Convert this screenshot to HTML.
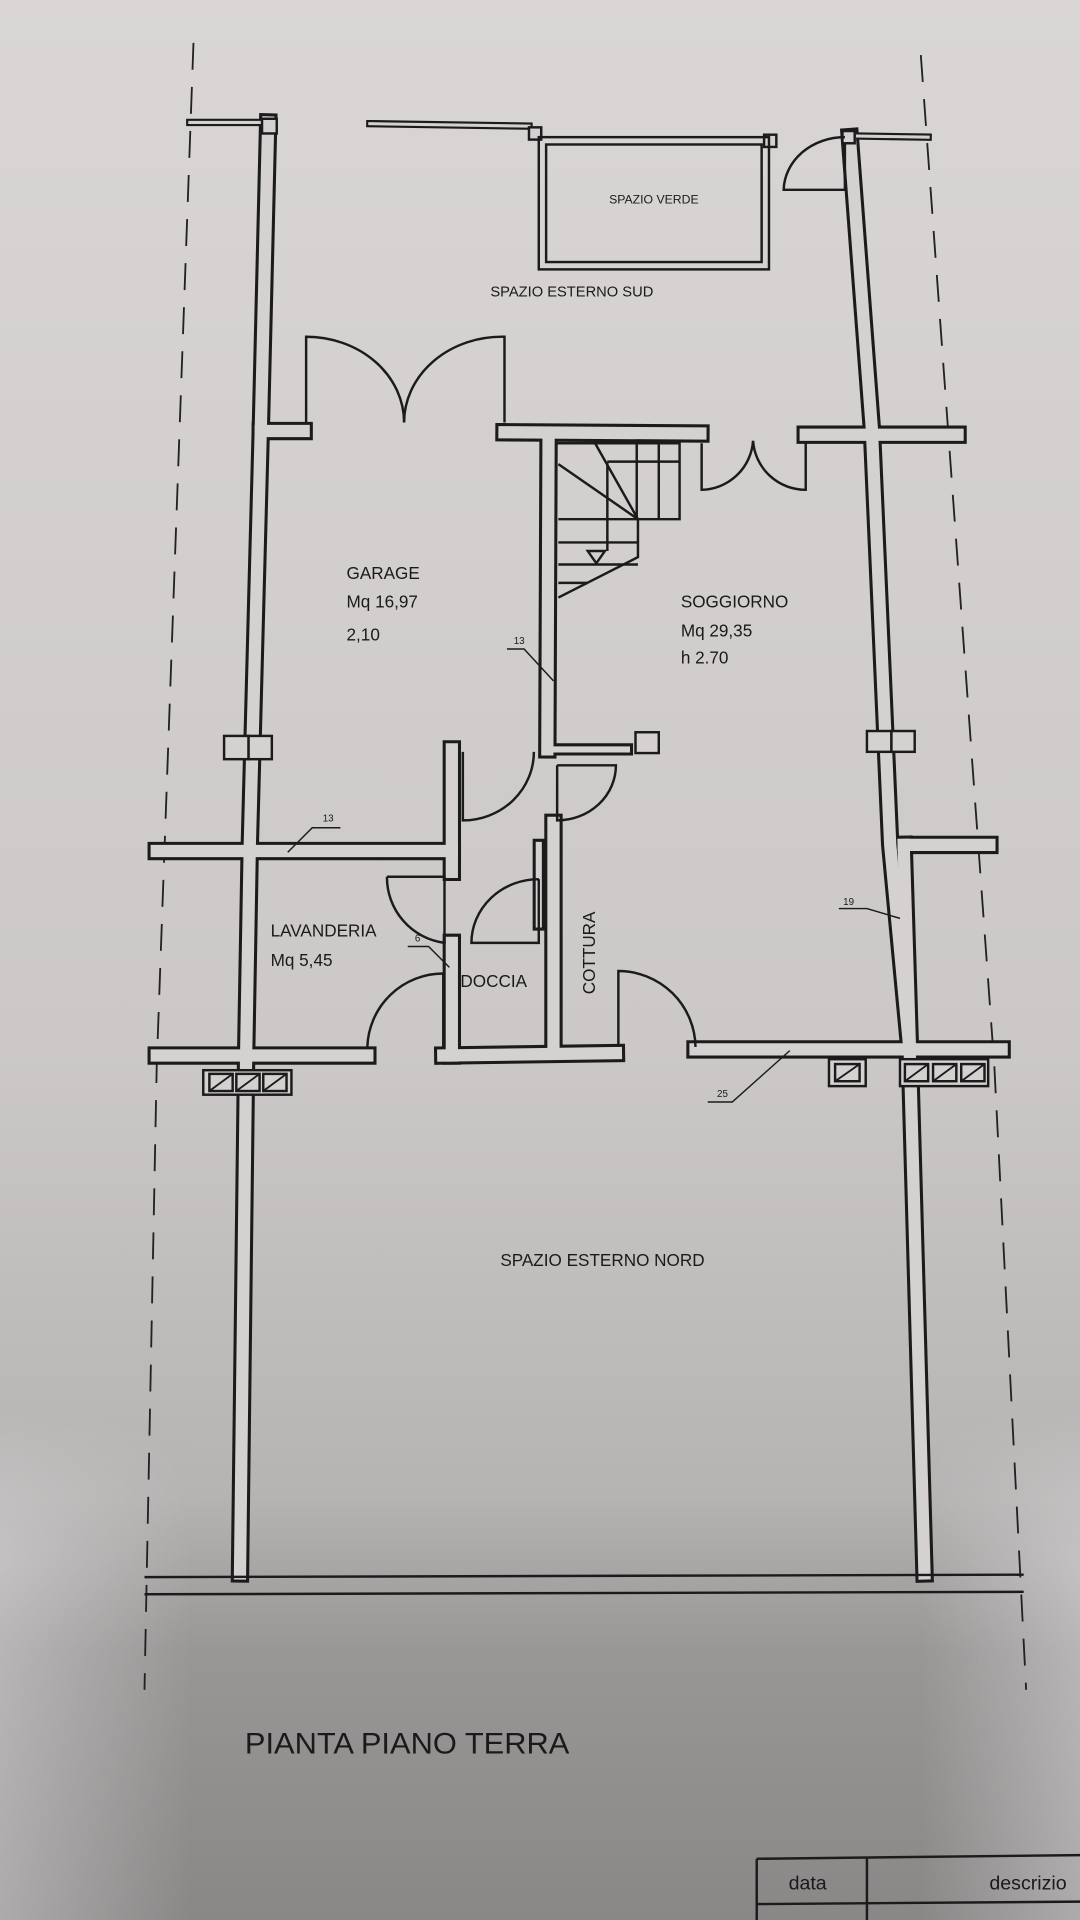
<!DOCTYPE html>
<html><head><meta charset="utf-8"><style>
html,body{margin:0;padding:0;width:1080px;height:1920px;overflow:hidden;background:#cfcccb}
svg{display:block}
text{font-family:"Liberation Sans",sans-serif;fill:#1a1a1a}
</style></head><body>
<svg width="1080" height="1920" viewBox="0 0 882 1568" preserveAspectRatio="none" xmlns="http://www.w3.org/2000/svg">
<defs>
<linearGradient id="bg" x1="0" y1="0" x2="0" y2="1">
<stop offset="0" stop-color="#d9d6d5"/>
<stop offset="0.55" stop-color="#cbc8c7"/>
<stop offset="0.78" stop-color="#b6b3b3"/>
<stop offset="0.86" stop-color="#999696"/>
<stop offset="1" stop-color="#8a8787"/>
</linearGradient>
<linearGradient id="side" x1="0" y1="0" x2="1" y2="0">
<stop offset="0" stop-color="#fff" stop-opacity="0.3"/>
<stop offset="0.18" stop-color="#fff" stop-opacity="0"/>
<stop offset="0.85" stop-color="#fff" stop-opacity="0"/>
<stop offset="1" stop-color="#fff" stop-opacity="0.3"/>
</linearGradient>
<linearGradient id="sidefade" x1="0" y1="0" x2="0" y2="1">
<stop offset="0" stop-color="#fff" stop-opacity="0"/>
<stop offset="0.3" stop-color="#fff" stop-opacity="1"/>
<stop offset="1" stop-color="#fff" stop-opacity="1"/>
</linearGradient>
<mask id="m"><rect y="1150" width="882" height="418" fill="url(#sidefade)"/></mask>
</defs>
<rect width="882" height="1568" fill="url(#bg)"/>
<rect y="1150" width="882" height="418" fill="url(#side)" mask="url(#m)"/>

<g stroke="#222" stroke-width="1.5" fill="none" stroke-dasharray="22,14">
<path d="M158,35 L128,870 L118,1380"/>
<path d="M752,45 L812,870 L838,1380"/>
</g>

<g fill="none" stroke-linejoin="miter" stroke-linecap="square">
<g stroke="#1b1b1b" stroke-width="15">
<path d="M219,100 L213,350 L204,690 L201,862 L196,1285"/>
<path d="M694,112 L712,350 L727,690 L743,860 L755,1285"/>
<path d="M213,352 L248,352"/>
<path d="M412,353 L572,354"/>
<path d="M658,355 L782,355"/>
<path d="M448,354 L447,612"/>
<path d="M128,695 L369,695"/>
<path d="M369,612 L369,712"/>
<path d="M369,770 L369,862"/>
<path d="M452,672 L452,857"/>
<path d="M128,862 L300,862"/>
<path d="M362,862 L503,860"/>
<path d="M568,857 L818,857"/>
<path d="M738,690 L808,690"/>
<path d="M738,690 L743,852"/>
</g>
<g stroke="#1b1b1b" stroke-width="10">
<path d="M447,612 L512,612"/>
<path d="M440,690 L440,755"/>
</g>
<g stroke="#1b1b1b" stroke-width="6">
<path d="M155,100 L219,100"/>
<path d="M302,101 L432,103"/>
<path d="M694,111 L758,112"/>
</g>
<g stroke="#d4d1d0" stroke-width="10">
<path d="M219,100 L213,350 L204,690 L201,862 L196,1285"/>
<path d="M694,112 L712,350 L727,690 L743,860 L755,1285"/>
<path d="M213,352 L248,352"/>
<path d="M412,353 L572,354"/>
<path d="M658,355 L782,355"/>
<path d="M448,354 L447,612"/>
<path d="M128,695 L369,695"/>
<path d="M369,612 L369,712"/>
<path d="M369,770 L369,862"/>
<path d="M452,672 L452,857"/>
<path d="M128,862 L300,862"/>
<path d="M362,862 L503,860"/>
<path d="M568,857 L818,857"/>
<path d="M738,690 L808,690"/>
<path d="M738,690 L743,852"/>
</g>
<g stroke="#d4d1d0" stroke-width="5">
<path d="M447,612 L512,612"/>
<path d="M440,690 L440,755"/>
</g>
<g stroke="#d4d1d0" stroke-width="2.5">
<path d="M155,100 L219,100"/>
<path d="M302,101 L432,103"/>
<path d="M694,111 L758,112"/>
</g>
</g>

<g stroke="#1b1b1b" stroke-width="2" fill="#d4d1d0">
<rect x="214" y="97" width="12" height="12"/>
<rect x="624" y="110" width="10" height="10"/>
<rect x="688" y="107" width="10" height="10"/>
<rect x="432" y="104" width="10" height="10"/>
<rect x="183" y="601" width="20" height="19"/>
<rect x="203" y="601" width="19" height="19"/>
<rect x="708" y="597" width="20" height="17"/>
<rect x="728" y="597" width="19" height="17"/>
<rect x="519" y="598" width="19" height="17"/>
</g>

<rect x="440" y="112" width="188" height="108" fill="none" stroke="#1b1b1b" stroke-width="2"/>
<rect x="446" y="118" width="176" height="96" fill="none" stroke="#1b1b1b" stroke-width="2"/>

<g fill="none" stroke="#1b1b1b" stroke-width="2">
<path d="M250,345 L250,275 A80,70 0 0 1 330,345"/>
<path d="M412,345 L412,275 A80,70 0 0 0 330,345"/>
<path d="M573,362 L573,400 A43,43 0 0 0 615,360"/>
<path d="M658,362 L658,400 A43,43 0 0 1 615,360"/>
<path d="M690,118 L690,155 L640,155 A50,44 0 0 1 690,112"/>
<path d="M378,614 L378,670 A58,56 0 0 0 436,614"/>
<path d="M455,625 L455,670 A48,45 0 0 0 503,625 L455,625"/>
<path d="M316,716 L363,716 L363,770 A54,54 0 0 1 316,716"/>
<path d="M440,718 L440,770 L385,770 A55,52 0 0 1 440,718"/>
<path d="M300,855 A62,62 0 0 1 362,795 L362,855"/>
<path d="M505,855 L505,793 A63,63 0 0 1 568,855"/>
</g>

<g fill="none" stroke="#1b1b1b" stroke-width="2">
<path d="M455,362 L555,362 L555,424 L521,424 L521,455 L456,488"/>
<path d="M486,362 L521,424 L456,379"/>
<path d="M496,377 L555,377"/><path d="M496,377 L496,450"/>
<path d="M520,362 L520,424"/><path d="M538,362 L538,424"/>
<path d="M456,424 L521,424"/><path d="M456,443 L521,443"/>
<path d="M456,461 L521,461"/><path d="M456,476 L480,476"/>
<path d="M480,450 L494,450 L487,460 Z"/>
</g>

<g stroke="#1b1b1b" stroke-width="2" fill="#d4d1d0">
<rect x="166" y="874" width="72" height="20"/>
<rect x="171" y="877" width="19" height="14"/><rect x="193" y="877" width="19" height="14"/><rect x="215" y="877" width="19" height="14"/>
<rect x="677" y="865" width="30" height="22"/><rect x="682" y="869" width="20" height="14"/>
<rect x="735" y="865" width="72" height="22"/>
<rect x="739" y="869" width="19" height="14"/><rect x="762" y="869" width="19" height="14"/><rect x="785" y="869" width="19" height="14"/>
</g>
<g stroke="#1b1b1b" stroke-width="1.5">
<path d="M171,891 L190,877 M193,891 L212,877 M215,891 L234,877 M682,883 L702,869 M739,883 L758,869 M762,883 L781,869 M785,883 L804,869"/>
</g>

<g stroke="#1b1b1b" stroke-width="1.2" fill="none">
<path d="M235,696 L255,676 L278,676"/>
<path d="M452,556 L428,530 L414,530"/>
<path d="M367,790 L350,773 L333,773"/>
<path d="M735,750 L708,742 L685,742"/>
<path d="M645,858 L598,900 L578,900"/>
</g>
<g font-size="8" text-anchor="middle">
<text x="268" y="671">13</text>
<text x="424" y="526">13</text>
<text x="341" y="769">6</text>
<text x="693" y="739">19</text>
<text x="590" y="896">25</text>
</g>

<g stroke="#1b1b1b" stroke-width="2">
<path d="M118,1288 L836,1286"/>
<path d="M118,1302 L836,1300"/>
</g>

<g font-size="14">
<text x="534" y="166" font-size="10" text-anchor="middle">SPAZIO VERDE</text>
<text x="467" y="242" font-size="12" text-anchor="middle">SPAZIO ESTERNO SUD</text>
<text x="283" y="473">GARAGE</text>
<text x="283" y="496">Mq 16,97</text>
<text x="283" y="523">2,10</text>
<text x="556" y="496">SOGGIORNO</text>
<text x="556" y="520">Mq 29,35</text>
<text x="556" y="542">h 2.70</text>
<text x="221" y="765">LAVANDERIA</text>
<text x="221" y="789">Mq 5,45</text>
<text x="376" y="806">DOCCIA</text>
<text x="486" y="812" transform="rotate(-90 486 812)">COTTURA</text>
<text x="492" y="1034" text-anchor="middle">SPAZIO ESTERNO NORD</text>
<text x="200" y="1432" font-size="24" textLength="265" lengthAdjust="spacingAndGlyphs">PIANTA PIANO TERRA</text>
</g>

<g stroke="#1b1b1b" stroke-width="2" fill="none">
<path d="M618,1518 L882,1515"/>
<path d="M618,1555 L882,1553"/>
<path d="M618,1518 L618,1568"/>
<path d="M708,1517 L708,1568"/>
</g>
<text x="644" y="1543" font-size="16">data</text>
<text x="808" y="1543" font-size="16">descrizio</text>
</svg>
</body></html>
